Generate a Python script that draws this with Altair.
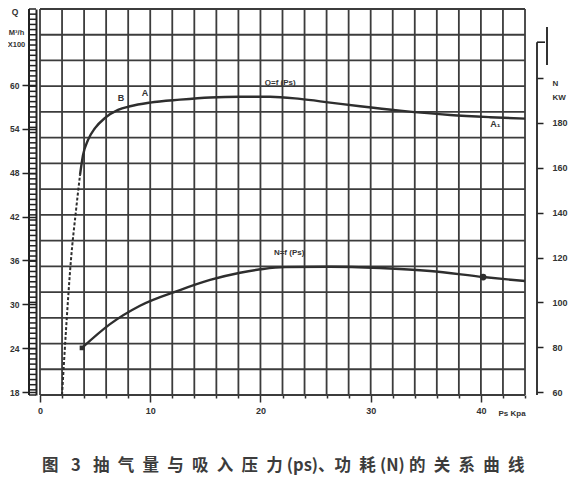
import altair as alt
import pandas as pd

# ---------------- data ----------------
# suction pressure Ps (kPa) vs pumping speed Q (m3/h x100)
q_dash_p = [2.0, 2.36, 2.81, 3.27, 3.63]
q_dash_q = [17.6, 26.5, 36.1, 42.9, 47.7]
q_p = [3.63, 3.90, 4.36, 4.99, 5.90, 7.08, 8.17, 9.98, 12.70, 15.43, 18.15,
       20.87, 23.59, 26.32, 29.04, 32.67, 37.21, 40.83, 44.0]
q_q = [47.7, 50.4, 52.5, 54.1, 55.5, 56.6, 57.1, 57.6, 58.0, 58.3, 58.4,
       58.4, 58.1, 57.6, 57.1, 56.5, 55.9, 55.6, 55.4]
# power N (kW)
n_p = [3.81, 6.35, 9.07, 12.70, 15.43, 18.15, 20.24, 22.23, 26.32, 30.85,
       35.39, 40.2, 44.0]
n_n = [79.7, 90.3, 98.5, 105.5, 110.0, 113.2, 114.9, 115.7, 115.9, 115.3,
       114.0, 111.3, 109.5]
n_marks_p = [3.81, 40.2]
n_marks_n = [79.7, 111.3]
n_marks_shape = ["square", "circle"]

q_labels = [18, 24, 30, 36, 42, 48, 54, 60]
n_ticks = [60, 80, 100, 120, 140, 160, 180, 200]

# graph paper lines and ruler rungs
grid_p = list(range(0, 45, 2))
grid_q = [round(17.6 + 3.52 * k, 3) for k in range(16)]
rung_q = [round(17.6 + 0.704 * k, 3) for k in range(76)]

point_text_p = [7.35, 9.53, 41.3]
point_text_q = [57.6, 58.2, 54.0]
point_text = ["B", "A", "A\u2081"]

curve_label_q = ("Q=f (Ps)", 21.8, 60.3)
curve_label_n = ("N=f (Ps)", 22.6, 122.0)

EN, FP = "\u2002", "\u2005"
caption = ("图" + EN + FP + "3" + EN + FP
           + EN.join("抽气量与吸入压力") + FP + "(ps)" + "、功" + EN + "耗"
           + FP + "(N)" + FP + EN.join("的关系曲线"))

# ---------------- scales / axes ----------------
INK = "#2e2e2e"
GRID = "#3c3c3c"
FONT = "Liberation Sans"
W, H = 485, 386

xscale = alt.Scale(domain=[0, 44], nice=False, zero=False)
qscale = alt.Scale(domain=[17.6, 70.4], nice=False, zero=False)
nscale = alt.Scale(domain=[58.7, 230.8], nice=False, zero=False)

x_axis = alt.Axis(
    values=grid_p, grid=False, domain=False, format="d",
    labelExpr="datum.value % 10 == 0 && datum.value <= 40 ? datum.label : ''",
    tickSize={"condition": {"test": "datum.value % 10 == 0 && datum.value <= 40", "value": 7}, "value": 3},
    tickColor=INK, tickWidth=1.5,
    labelFont=FONT, labelFontSize=9, labelFontWeight="bold", labelColor="#333",
    labelPadding=4, labelOverlap=False, labelFlush=False,
    title="Ps Kpa", titleX=458, titleY=18, titleAlign="left", titleBaseline="middle",
    titleFont=FONT, titleFontSize=8, titleFontWeight="bold", titleColor="#333",
)
q_axis = alt.Axis(
    orient="left", offset=4, values=q_labels, grid=False, format="d",
    domain=True, domainColor="#222", domainWidth=2,
    tickSize=14, tickColor="#222", tickWidth=1.5,
    labelFont=FONT, labelFontSize=8.5, labelFontWeight="bold", labelColor="#333",
    labelPadding=3, labelOverlap=False, labelFlush=False,
    title=["M\u00b3/h", "X100"], titleAngle=0, titleX=-20, titleY=19,
    titleAlign="center", titleBaseline="top", titleLineHeight=12,
    titleFont=FONT, titleFontSize=7.5, titleFontWeight="bold", titleColor="#333",
)
n_axis = alt.Axis(
    orient="right", offset=12, values=n_ticks, grid=False, domain=False, format="d",
    tickSize=6, tickColor="#222", tickWidth=1.5,
    labelExpr="datum.value <= 180 ? datum.label : ''",
    labelFont=FONT, labelFontSize=9, labelFontWeight="bold", labelColor="#333",
    labelPadding=9, labelOverlap=False, labelFlush=False,
    title=["N", "KW"], titleAngle=0, titleX=15, titleY=70,
    titleAlign="left", titleBaseline="top", titleLineHeight=14,
    titleFont=FONT, titleFontSize=8, titleFontWeight="bold", titleColor="#333",
)

X = alt.X("p:Q", scale=xscale, axis=x_axis)
YQ = alt.Y("q:Q", scale=qscale, axis=q_axis)
YN = alt.Y("n:Q", scale=nscale, axis=n_axis)

# ---------------- Q side layers ----------------
vgrid = alt.Chart(pd.DataFrame({"p": grid_p})).mark_rule(
    color=GRID, strokeWidth=1.8).encode(x=X)
hgrid = alt.Chart(pd.DataFrame({"q": grid_q})).mark_rule(
    color=GRID, strokeWidth=1.8).encode(y=YQ)
ladder = alt.Chart(pd.DataFrame({"q": [17.6], "q2": [70.4]})).mark_rule(
    color="#222", strokeWidth=2).encode(x=alt.value(-11), y=YQ, y2="q2:Q")
rungs = alt.Chart(pd.DataFrame({"q": rung_q})).mark_rule(
    color="#222", strokeWidth=1.5).encode(x=alt.value(-11), x2=alt.value(-4), y=YQ)
q_title = alt.Chart(pd.DataFrame({"t": ["Q"]})).mark_text(
    font=FONT, fontSize=8.5, fontWeight="bold", color="#333", align="center", baseline="middle").encode(
    x=alt.value(-25), y=alt.value(3), text="t:N")

q_dashed = alt.Chart(pd.DataFrame({"p": q_dash_p, "q": q_dash_q})).mark_line(
    color=INK, strokeWidth=2, strokeDash=[3, 2], interpolate="monotone").encode(x=X, y=YQ)
q_line = alt.Chart(pd.DataFrame({"p": q_p, "q": q_q})).mark_line(
    color=INK, strokeWidth=2.4, interpolate="monotone").encode(x=X, y=YQ)
q_pts = alt.Chart(pd.DataFrame({"p": point_text_p, "q": point_text_q, "t": point_text})).mark_text(
    font=FONT, fontSize=9, fontWeight="bold", color="#333", baseline="bottom").encode(x=X, y=YQ, text="t:N")
q_name = alt.Chart(pd.DataFrame({"p": [curve_label_q[1]], "q": [curve_label_q[2]], "t": [curve_label_q[0]]})).mark_text(
    font=FONT, fontSize=8, fontWeight="bold", color="#333").encode(x=X, y=YQ, text="t:N")
cap = alt.Chart(pd.DataFrame({"t": [caption]})).mark_text(
    font="Noto Sans CJK SC", fontSize=16.5, fontWeight="bold", color="#3c3c3c",
    align="left", baseline="middle").encode(
    x=alt.value(2), y=alt.value(457), text="t:N")

q_layer = alt.layer(vgrid, hgrid, ladder, rungs, q_title, q_dashed, q_line, q_pts, q_name, cap)

# ---------------- N side layers ----------------
n_line = alt.Chart(pd.DataFrame({"p": n_p, "n": n_n})).mark_line(
    color=INK, strokeWidth=2.4, interpolate="monotone").encode(x=X, y=YN)
n_pts = alt.Chart(pd.DataFrame({"p": n_marks_p, "n": n_marks_n, "s": n_marks_shape})).mark_point(
    filled=True, color=INK, opacity=1).encode(
    x=X, y=YN,
    shape=alt.Shape("s:N", scale=alt.Scale(domain=["square", "circle"], range=["square", "circle"]), legend=None),
    size=alt.Size("s:N", scale=alt.Scale(domain=["square", "circle"], range=[22, 45]), legend=None))
n_name = alt.Chart(pd.DataFrame({"p": [curve_label_n[1]], "n": [curve_label_n[2]], "t": [curve_label_n[0]]})).mark_text(
    font=FONT, fontSize=8, fontWeight="bold", color="#333").encode(x=X, y=YN, text="t:N")
n_rule = alt.Chart(pd.DataFrame({"n": [58.7], "n2": [216.0]})).mark_rule(
    color="#222", strokeWidth=1.8).encode(x=alt.value(W + 12), y=YN, y2="n2:Q")
n_cap = alt.Chart(pd.DataFrame({"n": [216.0]})).mark_rule(
    color="#222", strokeWidth=1.6).encode(x=alt.value(W + 12), x2=alt.value(W + 20), y=YN)
n_mark = alt.Chart(pd.DataFrame({"n": [205.8], "n2": [222.8]})).mark_rule(
    color="#333", strokeWidth=2).encode(x=alt.value(W + 22), y=YN, y2="n2:Q")

n_layer = alt.layer(n_line, n_pts, n_name, n_rule, n_cap, n_mark)

chart = alt.layer(q_layer, n_layer).resolve_scale(y="independent").properties(
    width=W, height=H,
    autosize=alt.AutoSizeParams(type="none"),
    padding={"left": 32, "top": 1, "right": 48, "bottom": 87},
    background="white",
).configure_view(stroke=None)

chart.save("out.html", embed_options={"renderer": "svg", "actions": False})
